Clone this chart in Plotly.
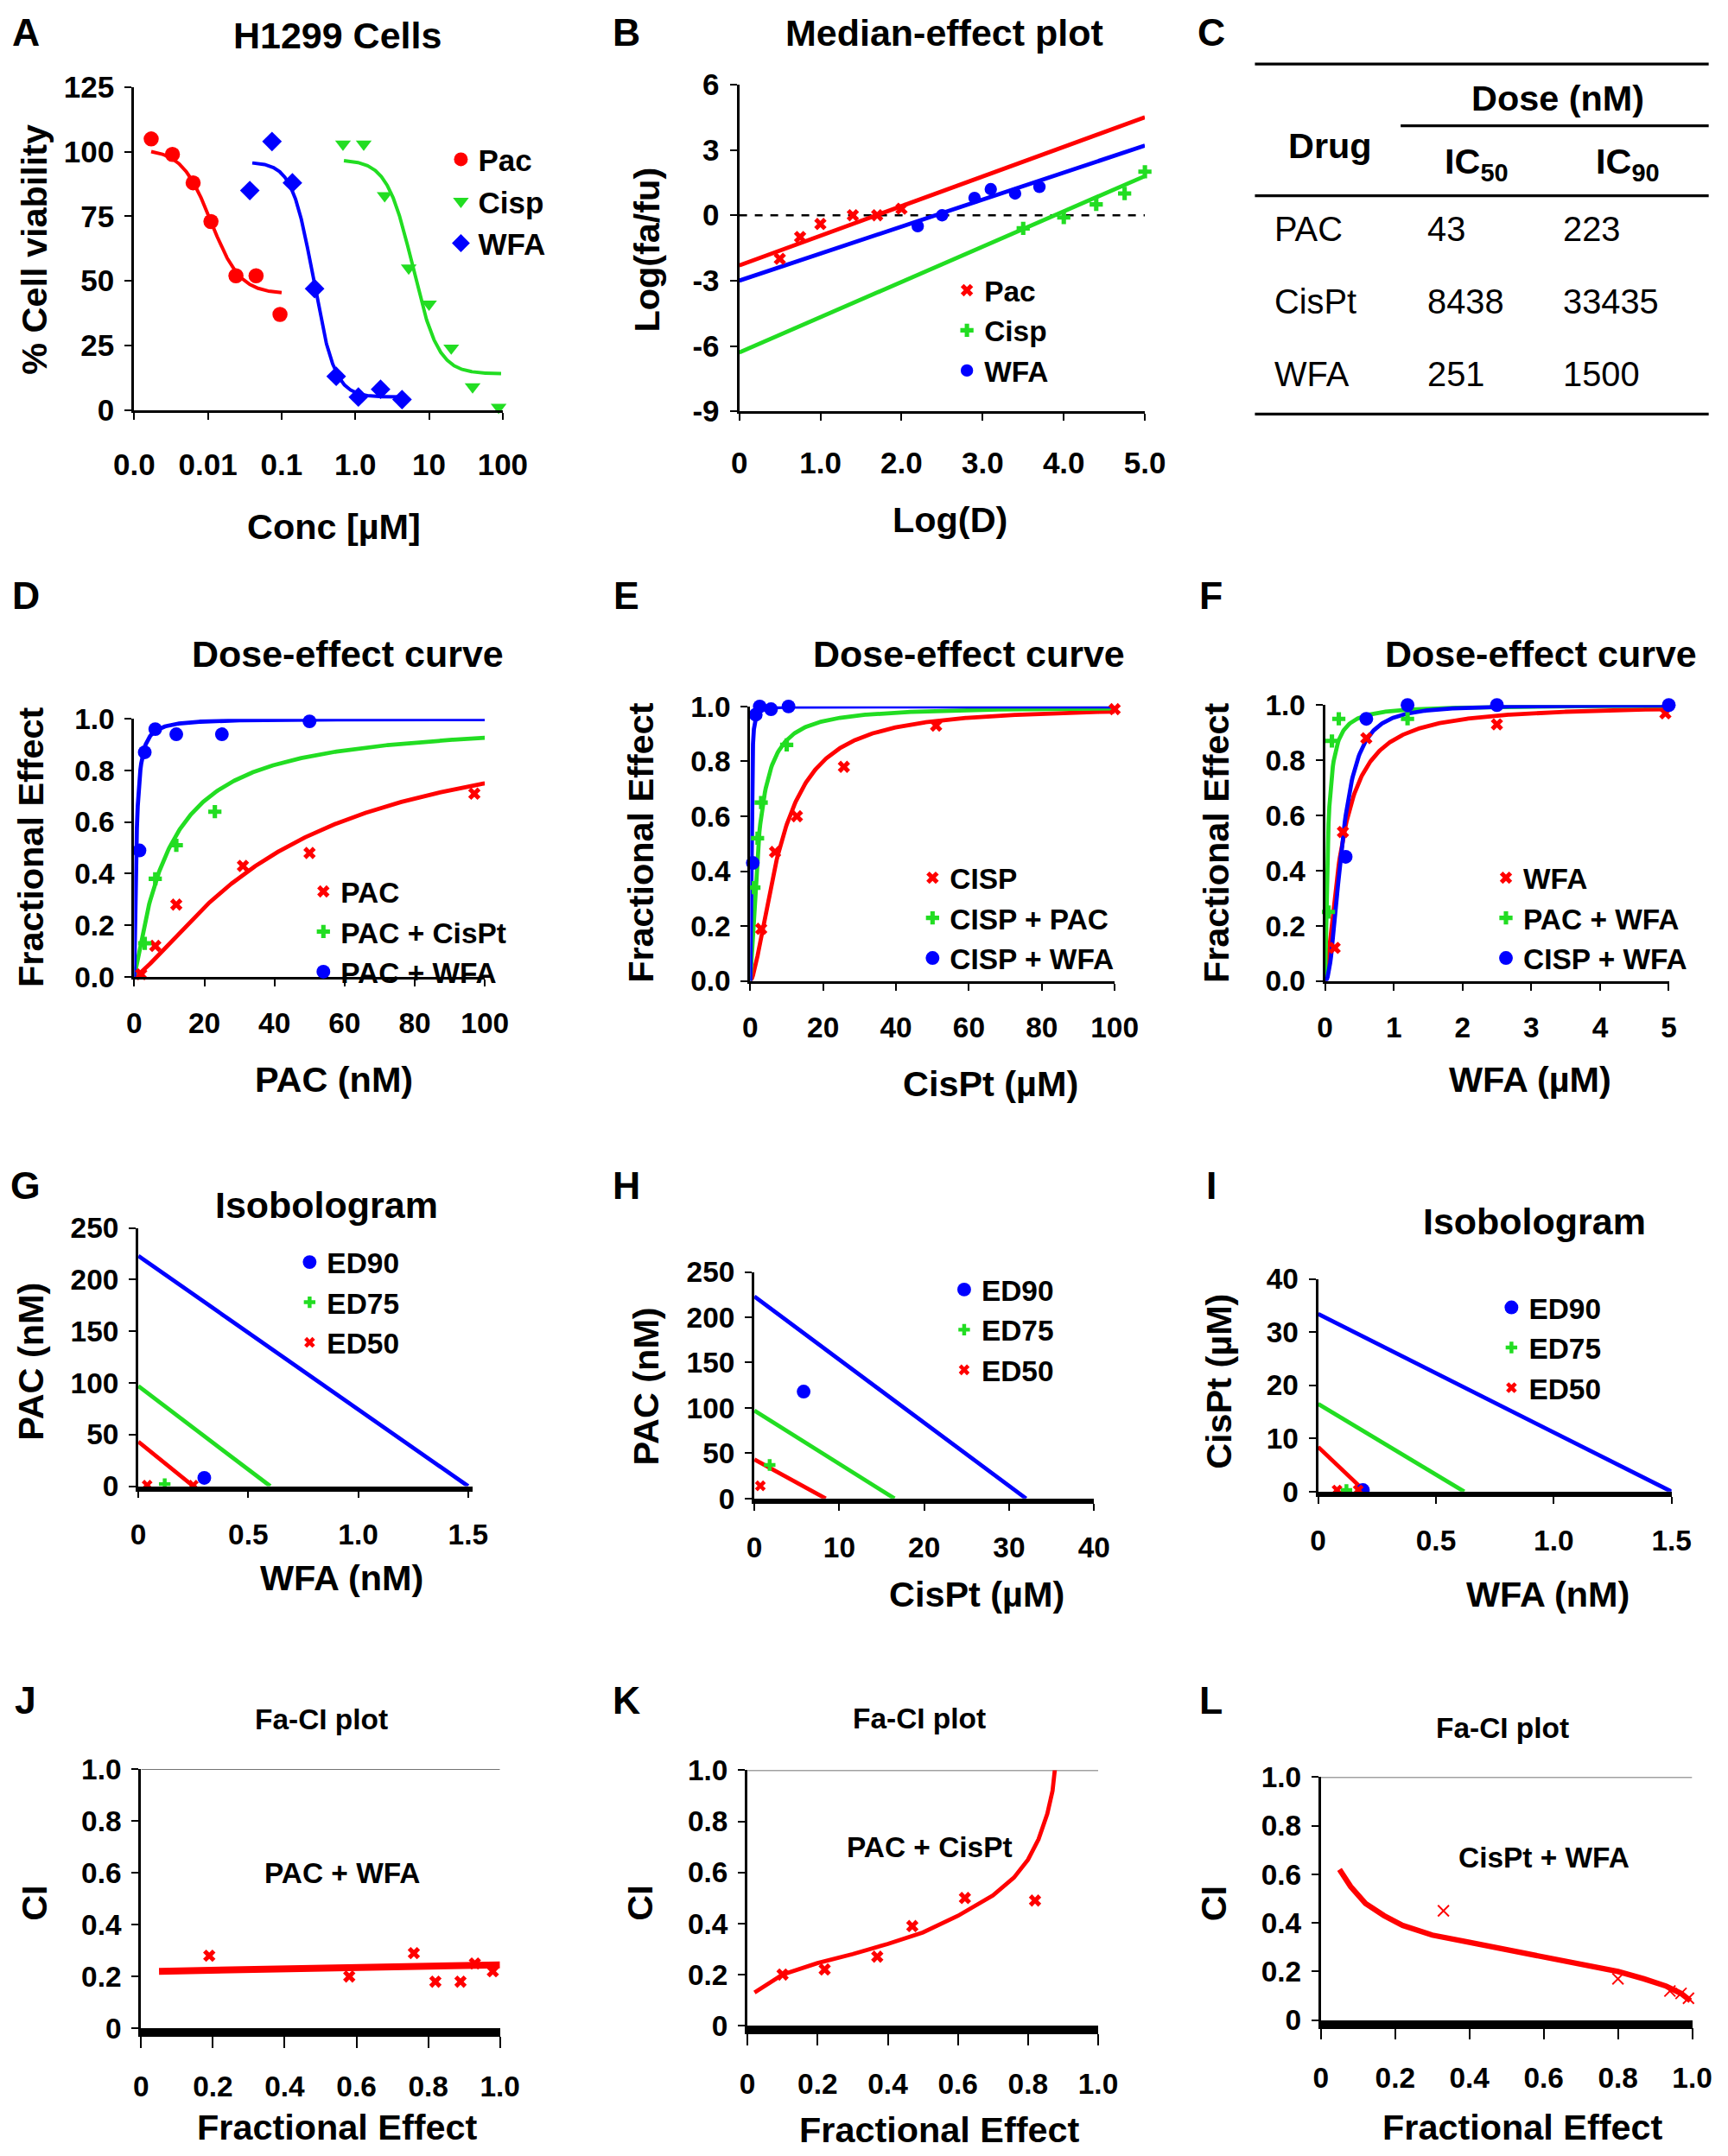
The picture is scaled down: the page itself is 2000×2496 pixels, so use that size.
import numpy as np
import plotly.graph_objects as go

W, H = 2000, 2496
S = W / 1256.0
F = "Arial, Liberation Sans, sans-serif"
RED, GRN, BLU = "#ff0000", "#22dd22", "#0000ff"

def fx(x): return ((x - 19.5) / 0.974) / 1256.0
def fy(y): return 1 - ((y - 16) / 0.986) / 1568.0
def fs(s): return s * S

# ---------------- data ----------------
# A: viability
a_pac_x = [0.0017, 0.0033, 0.0063, 0.011, 0.024, 0.045, 0.095]
a_pac_y = [105, 99, 88, 73, 52, 52, 37]
a_cis_x = [0.68, 1.3, 2.5, 5.3, 10, 20, 39, 88]
a_cis_y = [103, 103, 83, 55, 41, 24, 9, 1]
a_wfa_x = [0.037, 0.074, 0.14, 0.28, 0.55, 1.1, 2.2, 4.3]
a_wfa_y = [85, 104, 88, 47, 13, 5, 8, 4]
a_fit = {"pac": (101, 45, 0.011, 2.2, 0.0017, 0.1),
         "cis": (97, 14, 6.0, 2.5, 0.7, 95),
         "wfa": (96, 5, 0.27, 3.0, 0.04, 5)}
# B: median-effect
b_pac_x = [0.5, 0.75, 1.0, 1.4, 1.7, 2.0]; b_pac_y = [-2.0, -1.0, -0.4, 0.0, 0.0, 0.3]
b_cis_x = [3.5, 4.0, 4.4, 4.75, 5.0]; b_cis_y = [-0.6, -0.1, 0.5, 1.0, 2.0]
b_wfa_x = [2.2, 2.5, 2.9, 3.1, 3.4, 3.7]; b_wfa_y = [-0.5, 0.0, 0.8, 1.2, 1.0, 1.3]
b_lines = {"pac": (-2.3, 4.5), "cis": (-6.3, 1.8), "wfa": (-3.0, 3.2)}
# C: table
c_drugs = ["PAC", "CisPt", "WFA"]; c_ic50 = ["43", "8438", "251"]; c_ic90 = ["223", "33435", "1500"]
# D
d_pac = ([2, 6, 12, 31, 50, 97], [0.01, 0.12, 0.28, 0.43, 0.48, 0.71])
d_cis = ([3, 6, 12, 23], [0.13, 0.38, 0.51, 0.64])
d_wfa = ([1.5, 3, 6, 12, 25, 50], [0.49, 0.87, 0.96, 0.94, 0.94, 0.99])
d_fit = {"r": (43, 1.3, 100), "g": (10, 1.1, 100), "b": (0.6, 1.3, 100)}
# E
e_cis = ([3, 6.8, 12.8, 25.7, 51, 100], [0.19, 0.47, 0.6, 0.78, 0.93, 0.99])
e_pac = ([1, 2, 3, 10], [0.34, 0.52, 0.65, 0.86])
e_wfa = ([0.7, 1.5, 2.6, 5.7, 10.5], [0.43, 0.97, 1.0, 0.99, 1.0])
e_fit = {"r": (8.4, 1.6, 100), "g": (2.2, 1.3, 100), "b": (0.3, 2.0, 100)}
# F
f_wfa = ([0.14, 0.26, 0.6, 2.5, 4.95], [0.12, 0.54, 0.88, 0.93, 0.97])
f_pac = ([0.05, 0.1, 0.2, 1.2], [0.25, 0.87, 0.95, 0.95])
f_cis = ([0.3, 0.6, 1.2, 2.5, 5.0], [0.45, 0.95, 1.0, 1.0, 1.0])
f_fit = {"r": (0.25, 1.4, 5), "g": (0.04, 1.2, 5), "b": (0.25, 2.2, 5)}
# G, H, I isobolograms: (y-intercept, x-intercept)
g_lines = {"ED90": (223, 1.5), "ED75": (97, 0.6), "ED50": (43, 0.25)}
g_pts = {"ED90": ([0.3], [8]), "ED75": ([0.12], [2]), "ED50": ([0.04, 0.25], [1, 1])}
h_lines = {"ED90": (223, 32), "ED75": (97, 16.5), "ED50": (43, 8.4)}
h_pts = {"ED90": ([5.8], [118]), "ED75": ([1.8], [37]), "ED50": ([0.7], [14])}
i_lines = {"ED90": (33.4, 1.5), "ED75": (16.5, 0.62), "ED50": (8.4, 0.2)}
i_pts = {"ED90": ([0.19], [0.3]), "ED75": ([0.12], [0.3]), "ED50": ([0.08, 0.17], [0.3, 0.3])}
# J, K, L: Fa-CI
j_line = ([0.05, 1.0], [0.22, 0.245])
j_pts = ([0.19, 0.58, 0.76, 0.82, 0.89, 0.93, 0.98], [0.28, 0.2, 0.29, 0.18, 0.18, 0.25, 0.22])
k_line = ([0.02, 0.1, 0.2, 0.3, 0.4, 0.5, 0.6, 0.7, 0.76, 0.8, 0.83, 0.855, 0.87, 0.88, 0.89, 0.9],
          [0.13, 0.2, 0.245, 0.28, 0.32, 0.365, 0.43, 0.51, 0.58, 0.65, 0.73, 0.83, 0.92, 1.02, 1.14, 1.3])
k_pts = ([0.1, 0.22, 0.37, 0.47, 0.62, 0.82], [0.2, 0.22, 0.27, 0.39, 0.5, 0.49])
l_line = ([0.05, 0.08, 0.12, 0.17, 0.22, 0.3, 0.4, 0.5, 0.6, 0.7, 0.8, 0.87, 0.93, 0.97, 0.995],
          [0.62, 0.55, 0.48, 0.43, 0.39, 0.35, 0.32, 0.29, 0.26, 0.23, 0.2, 0.17, 0.14, 0.11, 0.08])
l_pts = ([0.33, 0.8, 0.94, 0.97, 0.99], [0.45, 0.17, 0.12, 0.11, 0.09])

fig = go.Figure()
ann = []
shp = []

def text(x, y, t, size=26, bold=True, angle=0, xanchor="center", color="black"):
    ann.append(dict(x=fx(x), y=fy(y), xref="paper", yref="paper", text=("<b>%s</b>" % t) if bold else t,
                    showarrow=False, textangle=angle, xanchor=xanchor, yanchor="middle",
                    font=dict(family=F, size=fs(size), color=color)))

def axes(n, x0, x1, ytop, ybot, xr, yr, xt, xl, yt, yl, xtype="linear", tf=21, xso=6):
    suf = "" if n == 1 else str(n)
    common = dict(showgrid=False, zeroline=False, showline=True, linecolor="black", linewidth=fs(2),
                  ticks="outside", ticklen=fs(5), tickwidth=fs(1.5), tickcolor="black",
                  tickfont=dict(family=F, size=fs(tf), color="black"))
    fig.layout["xaxis" + suf] = dict(domain=[fx(x0), fx(x1)], range=xr, type=xtype, anchor="y" + suf,
                                     tickvals=xt, ticktext=["<b>%s</b>" % s for s in xl],
                                     ticklabelstandoff=int(round(fs(xso))), **common)
    fig.layout["yaxis" + suf] = dict(domain=[fy(ybot), fy(ytop)], range=yr, anchor="x" + suf,
                                     tickvals=yt, ticktext=["<b>%s</b>" % s for s in yl],
                                     ticklabelstandoff=int(round(fs(3))), **common)
    return "x" + suf, "y" + suf

def sc(xa, ya, x, y, color, sym=None, size=10, mode="markers", width=3, name=None, legend=None, dash=None):
    fig.add_trace(go.Scatter(x=x, y=y, xaxis=xa, yaxis=ya, mode=mode, name=name,
                             showlegend=legend is not None, legend=legend or "legend",
                             marker=dict(color=color, symbol=sym, size=fs(size), line=dict(width=0)),
                             line=dict(color=color, width=fs(width), dash=dash), cliponaxis=False))

def leg(name, x, y, size=20):
    fig.layout[name] = dict(x=fx(x), y=fy(y), xref="paper", yref="paper", xanchor="left", yanchor="top",
                            bgcolor="rgba(0,0,0,0)", font=dict(family=F, size=fs(size), color="black"),
                            tracegroupgap=0, itemwidth=30)

def hill(Dm, m, xmax, xmin=1e-4):
    x = np.linspace(xmin, xmax, 400)
    return x, 1 / (1 + (Dm / x) ** m)

# ---------- A ----------
xa, ya = axes(1, 97, 365, 62, 297, [-3, 2], [0, 125], [0.001, 0.01, 0.1, 1, 10, 100],
              ["0.0", "0.01", "0.1", "1.0", "10", "100"], [0, 25, 50, 75, 100, 125],
              ["0", "25", "50", "75", "100", "125"], xtype="log", tf=22, xso=14)
for k, c in (("pac", RED), ("wfa", BLU), ("cis", GRN)):
    top, bot, ic, h, lo, hi = a_fit[k]
    x = np.logspace(np.log10(lo), np.log10(hi), 300)
    sc(xa, ya, x, bot + (top - bot) / (1 + (x / ic) ** h), c, mode="lines", width=2.5)
sc(xa, ya, a_pac_x, a_pac_y, RED, "circle", 11, name="<b>Pac</b>", legend="legend")
sc(xa, ya, a_cis_x, a_cis_y, GRN, "triangle-down", 10, name="<b>Cisp</b>", legend="legend")
sc(xa, ya, a_wfa_x, a_wfa_y, BLU, "diamond", 11, name="<b>WFA</b>", legend="legend")
leg("legend", 322, 96, 22)
text(18, 22, "A", 28); text(245, 24, "H1299 Cells", 27)
text(24, 180, "% Cell viability", 26, angle=-90); text(242, 382, "Conc [µM]", 26)

# ---------- B ----------
xa, ya = axes(2, 537, 832, 60, 298, [0, 5], [-9, 6], [0, 1, 2, 3, 4, 5],
              ["0", "1.0", "2.0", "3.0", "4.0", "5.0"], [6, 3, 0, -3, -6, -9],
              ["6", "3", "0", "-3", "-6", "-9"], tf=22, xso=12)
sc(xa, ya, [0, 5], [0, 0], "black", mode="lines", width=1.5, dash="dash")
for k, c in (("pac", RED), ("wfa", BLU), ("cis", GRN)):
    sc(xa, ya, [0, 5], list(b_lines[k]), c, mode="lines", width=3)
sc(xa, ya, b_pac_x, b_pac_y, RED, "x", 8, name="<b>Pac</b>", legend="legend2")
sc(xa, ya, b_cis_x, b_cis_y, GRN, "cross", 8, name="<b>Cisp</b>", legend="legend2")
sc(xa, ya, b_wfa_x, b_wfa_y, BLU, "circle", 9, name="<b>WFA</b>", legend="legend2")
leg("legend2", 690, 192, 21)
text(455, 22, "B", 28); text(686, 22, "Median-effect plot", 27)
text(470, 180, "Log(fa/fu)", 26, angle=-90); text(690, 377, "Log(D)", 26)

# ---------- C table ----------
text(880, 22, "C", 28)
for (x0, x1, y) in ((912, 1242, 45), (1018, 1242, 90), (912, 1242, 141), (912, 1242, 300)):
    shp.append(dict(type="line", xref="paper", yref="paper", x0=fx(x0), x1=fx(x1), y0=fy(y), y1=fy(y),
                    line=dict(color="black", width=fs(2))))
text(1132, 70, "Dose (nM)", 26); text(967, 105, "Drug", 26)
text(1073, 118, "IC<sub>50</sub>", 26); text(1183, 118, "IC<sub>90</sub>", 26)
for i, yy in enumerate((165, 218, 271)):
    text(925, yy, c_drugs[i], 25, bold=False, xanchor="left")
    text(1036, yy, c_ic50[i], 25, bold=False, xanchor="left")
    text(1135, yy, c_ic90[i], 25, bold=False, xanchor="left")

# ---------- D, E, F ----------
def dose(n, x0, x1, ytop, ybot, xr, xt, xl, fits, pts, names, lname, lx, ly, letter, lpos, xtitle, xtpos):
    xa, ya = axes(n, x0, x1, ytop, ybot, xr, [0, 1.0], xt, xl, [0, 0.2, 0.4, 0.6, 0.8, 1.0],
                  ["0.0", "0.2", "0.4", "0.6", "0.8", "1.0"], xso=9)
    for key, c in (("r", RED), ("g", GRN), ("b", BLU)):
        Dm, m, xmax = fits[key]
        x, y = hill(Dm, m, xmax)
        sc(xa, ya, x, y, c, mode="lines", width=3)
    for (px_, py_), c, sym, nm in zip(pts, (RED, GRN, BLU), ("x", "cross", "circle"), names):
        sc(xa, ya, px_, py_, c, sym, 8 if sym != "circle" else 10, name="<b>%s</b>" % nm, legend=lname)
    leg(lname, lx, ly, 21)
    text(lpos[0], lpos[1], letter, 28)
    text(xtpos[0], xtpos[1], xtitle, 26)

dose(3, 97, 352, 522, 710, [0, 100], [0, 20, 40, 60, 80, 100], ["0", "20", "40", "60", "80", "100"],
     d_fit, [d_pac, d_cis, d_wfa], ["PAC", "PAC + CisPt", "PAC + WFA"], "legend3", 222, 630,
     "D", (18, 432), "PAC (nM)", (242, 785))
text(252, 475, "Dose-effect curve", 27); text(22, 615, "Fractional Effect", 26, angle=-90)
dose(4, 545, 810, 513, 713, [0, 100], [0, 20, 40, 60, 80, 100], ["0", "20", "40", "60", "80", "100"],
     e_fit, [e_cis, e_pac, e_wfa], ["CISP", "CISP + PAC", "CISP + WFA"], "legend4", 665, 620,
     "E", (455, 432), "CisPt (µM)", (720, 788))
text(704, 475, "Dose-effect curve", 27); text(466, 612, "Fractional Effect", 26, angle=-90)
dose(5, 963, 1213, 512, 713, [0, 5], [0, 1, 2, 3, 4, 5], ["0", "1", "2", "3", "4", "5"],
     f_fit, [f_wfa, f_pac, f_cis], ["WFA", "PAC + WFA", "CISP + WFA"], "legend5", 1082, 620,
     "F", (880, 432), "WFA (µM)", (1112, 785))
text(1120, 475, "Dose-effect curve", 27); text(884, 612, "Fractional Effect", 26, angle=-90)

# ---------- G, H, I ----------
def iso(n, x0, x1, ytop, ybot, xr, yr, xt, xl, yt, yl, lines, pts, lname, lx, ly):
    xa, ya = axes(n, x0, x1, ytop, ybot, xr, yr, xt, xl, yt, yl, xso=9)
    fig.layout["xaxis" + str(n)].linewidth = fs(3.5)
    for key, c in (("ED90", BLU), ("ED75", GRN), ("ED50", RED)):
        yi, xi = lines[key]
        sc(xa, ya, [0, xi], [yi, 0], c, mode="lines", width=3)
    for key, c, sym in (("ED90", BLU, "circle"), ("ED75", GRN, "cross"), ("ED50", RED, "x")):
        sc(xa, ya, pts[key][0], pts[key][1], c, sym, 10 if sym == "circle" else 7,
           name="<b>%s</b>" % key, legend=lname)
    leg(lname, lx, ly, 21)

iso(6, 100, 343, 893, 1081, [0, 1.52], [0, 250], [0, 0.5, 1.0, 1.5], ["0", "0.5", "1.0", "1.5"],
    [0, 50, 100, 150, 200, 250], ["0", "50", "100", "150", "200", "250"], g_lines, g_pts, "legend6", 212, 900)
text(18, 862, "G", 28); text(237, 876, "Isobologram", 27)
text(22, 990, "PAC (nM)", 26, angle=-90); text(248, 1148, "WFA (nM)", 26)
iso(7, 548, 795, 925, 1090, [0, 40], [0, 250], [0, 10, 20, 30, 40], ["0", "10", "20", "30", "40"],
    [0, 50, 100, 150, 200, 250], ["0", "50", "100", "150", "200", "250"], h_lines, h_pts, "legend7", 688, 920)
text(455, 862, "H", 28)
text(470, 1008, "PAC (nM)", 26, angle=-90); text(710, 1160, "CisPt (µM)", 26)
iso(8, 958, 1215, 930, 1085, [0, 1.5], [0, 40], [0, 0.5, 1.0, 1.5], ["0", "0.5", "1.0", "1.5"],
    [0, 10, 20, 30, 40], ["0", "10", "20", "30", "40"], i_lines, i_pts, "legend8", 1086, 933)
text(880, 862, "I", 28); text(1115, 888, "Isobologram", 27)
text(886, 1005, "CisPt (µM)", 26, angle=-90); text(1125, 1160, "WFA (nM)", 26)

# ---------- J, K, L ----------
def faci(n, x0, x1, ytop, ybot, yr, line, pts, sym, label, lab_xy, letter, lpos, title, tpos, ciy, fey, lw=5):
    xa, ya = axes(n, x0, x1, ytop, ybot, [0, 1.0], yr, [0, 0.2, 0.4, 0.6, 0.8, 1.0],
                  ["0", "0.2", "0.4", "0.6", "0.8", "1.0"], [0, 0.2, 0.4, 0.6, 0.8, 1.0],
                  ["0", "0.2", "0.4", "0.6", "0.8", "1.0"], xso=10)
    fig.layout["xaxis" + str(n)].linewidth = fs(6)
    fig.layout["xaxis" + str(n)].ticklen = fs(8)
    sc(xa, ya, [0, 1.0], [1.0, 1.0], "#444444", mode="lines", width=1)
    sc(xa, ya, line[0], line[1], RED, mode="lines", width=lw)
    sc(xa, ya, pts[0], pts[1], RED, sym, 8)
    ann.append(dict(x=lab_xy[0], y=lab_xy[1], xref=xa, yref=ya, text="<b>%s</b>" % label, showarrow=False,
                    font=dict(family=F, size=fs(21), color="black")))
    text(lpos[0], lpos[1], letter, 28)
    text(tpos[0], tpos[1], title, 21)
    text(x0 - 78, ciy, "CI", 26, angle=-90)
    text((x0 + x1) / 2 + 12, fey, "Fractional Effect", 26)

faci(9, 102, 363, 1287, 1476, [0, 1.0], j_line, j_pts, "x", "PAC + WFA", (0.56, 0.6), "J", (18, 1237),
     "Fa-CI plot", (233, 1251), 1385, 1548)
faci(10, 543, 798, 1288, 1474, [0, 1.0], k_line, k_pts, "x", "PAC + CisPt", (0.52, 0.7), "K", (455, 1237),
     "Fa-CI plot", (668, 1250), 1385, 1550, lw=3)
faci(11, 960, 1230, 1293, 1470, [0, 1.0], l_line, l_pts, "x-thin-open", "CisPt + WFA", (0.6, 0.67), "L",
     (880, 1237), "Fa-CI plot", (1092, 1257), 1385, 1548, lw=4)
fig.data[-1].marker.line = dict(color=RED, width=fs(1.2))

fig.update_layout(width=W, height=H, margin=dict(l=0, r=0, t=0, b=0), plot_bgcolor="white",
                  paper_bgcolor="white", annotations=ann, shapes=shp)
fig.write_html("out.html")
